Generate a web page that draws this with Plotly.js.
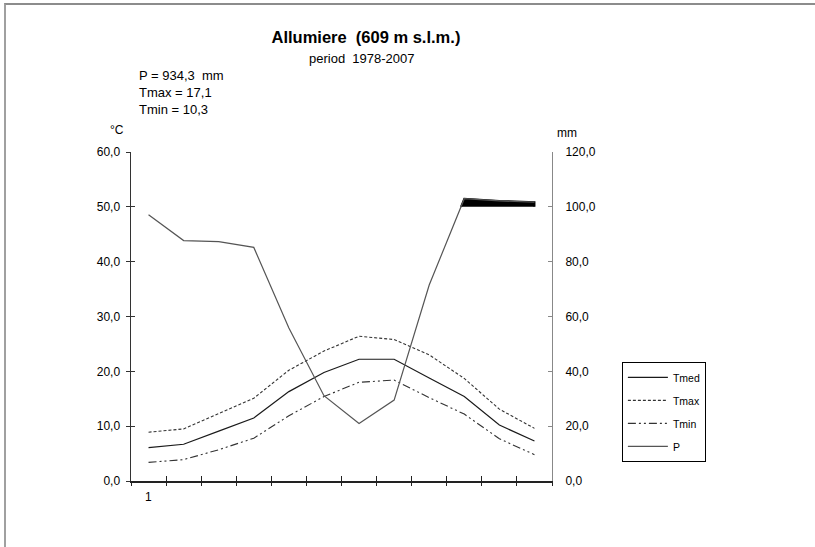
<!DOCTYPE html>
<html><head><meta charset="utf-8">
<script src="https://cdn.plot.ly/plotly-3.0.1.min.js"></script>
<style>
body{margin:0;background:#fff;}
#chart{position:absolute;left:0;top:0;width:815px;height:547px;}
#frame{position:absolute;left:4px;top:3px;right:0;bottom:0;border-top:2px solid #8c8c8c;border-left:2px solid #a0a0a0;pointer-events:none;}
</style>
</head><body>
<div id="chart"></div><div id="frame"></div>
<script>
// ---- data ----
const months = [1,2,3,4,5,6,7,8,9,10,11,12];
const xLabels = ['1','','','','','','','','','','',''];
const tmed = [6.1, 6.7, 9.1, 11.5, 16.3, 19.8, 22.2, 22.2, 18.8, 15.4, 10.2, 7.3];
const tmax = [8.9, 9.5, 12.3, 15.1, 20.2, 23.7, 26.4, 25.8, 23.0, 18.7, 13.1, 9.6];
const tmin = [3.4, 3.9, 5.7, 7.8, 11.9, 15.4, 18.0, 18.4, 15.2, 12.2, 7.7, 4.8];
const prec = [97.1, 87.7, 87.3, 85.2, 55.8, 31.1, 21.0, 29.5, 71.5, 129.5, 121.5, 117.1];
const titleText = 'Allumiere\u00a0 (609 m s.l.m.)';
const subtitleText = 'period\u00a0 1978-2007';
const statsLines = ['P = 934,3 \u00a0mm', 'Tmax = 17,1', 'Tmin = 10,3'];
const leftUnit = '°C';
const rightUnit = 'mm';

// Walter-Lieth: precipitation above 100 mm drawn at 1/10 scale
const pPlot = prec.map(p => p > 100 ? 100 + (p - 100) / 10 : p);
const fillX = [], fillY = [];
for (let i = 0; i < months.length; i++) {
  if (i > 0) {
    const a = pPlot[i-1], b = pPlot[i];
    if ((a > 100) !== (b > 100)) {
      const xc = months[i-1] + (100 - a) / (b - a) * (months[i] - months[i-1]);
      fillX.push(xc); fillY.push(100);
    }
  }
  if (pPlot[i] > 100) { fillX.push(months[i]); fillY.push(pPlot[i]); }
}
if (pPlot[pPlot.length-1] > 100) { fillX.push(months[months.length-1]); fillY.push(100); }

const bounds = months.map(m => m - 0.5).concat([months[months.length-1] + 0.5]);

const traces = [
  {x: months, y: tmed, name: 'Tmed', mode: 'lines', legendgroup: 'a',
   line: {color: '#1a1a1a', width: 1.2}},
  {x: months, y: tmax, name: 'Tmax', mode: 'lines', legendgroup: 'b',
   line: {color: '#333', width: 1.1, dash: '3px,2px'}},
  {x: months, y: tmin, name: 'Tmin', mode: 'lines', legendgroup: 'c',
   line: {color: '#333', width: 1.1, dash: '8px,3px,2px,3px,2px,3px'}},
  {x: fillX, y: fillY, yaxis: 'y2', mode: 'lines', fill: 'toself', fillcolor: '#000',
   line: {color: '#000', width: 2}, showlegend: false, hoverinfo: 'skip'},
  {x: months, y: pPlot, yaxis: 'y2', name: 'P', mode: 'lines', legendgroup: 'd',
   line: {color: '#555', width: 1.2}},
  {x: [], y: [], xaxis: 'x2', yaxis: 'y3', showlegend: false, hoverinfo: 'skip', mode: 'lines'}
];

const annotations = [
  {text: subtitleText, xref: 'paper', yref: 'paper', x: 0.5487, y: 1.2857,
   xanchor: 'center', yanchor: 'middle', showarrow: false, font: {size: 13}},
  {text: statsLines.join('<br>'), xref: 'paper', yref: 'paper', x: 0.0143, y: 1.182,
   xanchor: 'left', yanchor: 'middle', align: 'left', showarrow: false, font: {size: 13}},
  {text: leftUnit, xref: 'paper', yref: 'paper', x: -0.033, y: 1.067,
   xanchor: 'center', yanchor: 'middle', showarrow: false, font: {size: 12}},
  {text: rightUnit, xref: 'paper', yref: 'paper', x: 1.0356, y: 1.058,
   xanchor: 'center', yanchor: 'middle', showarrow: false, font: {size: 12}}
];
xLabels.forEach((t, i) => {
  if (t) annotations.push({text: t, xref: 'x', yref: 'paper', x: months[i], y: 0,
    xanchor: 'center', yanchor: 'top', yshift: -7, showarrow: false, font: {size: 12}});
});

const layout = {
  width: 815, height: 547,
  margin: {l: 131, r: 263, t: 152, b: 66, pad: 0},
  paper_bgcolor: '#fff', plot_bgcolor: '#fff',
  separators: ', ',
  font: {family: 'Liberation Sans, Arial, sans-serif', size: 12, color: '#000'},
  title: {text: titleText, xref: 'container', yref: 'container', x: 0.449, y: 0.9324,
    xanchor: 'center', yanchor: 'middle', font: {size: 16.5, weight: 'bold', color: '#000'}},
  showlegend: true,
  legend: {x: 1.166, y: 0.362, xanchor: 'left', yanchor: 'top', bordercolor: '#000',
    borderwidth: 1, font: {size: 10.5}, itemwidth: 40, tracegroupgap: 4, bgcolor: '#fff'},
  xaxis: {range: [0.5, 12.5], tickmode: 'array', tickvals: bounds, showticklabels: false,
    ticks: 'outside', ticklen: 3, tickcolor: '#222', tickwidth: 1, showline: true,
    linecolor: '#222', linewidth: 1.5, showgrid: false, zeroline: false, fixedrange: true},
  xaxis2: {overlaying: 'x', range: [0.5, 12.5], tickmode: 'array', tickvals: bounds,
    showticklabels: false, ticks: 'inside', ticklen: 5, tickcolor: '#222', showline: false,
    showgrid: false, zeroline: false},
  yaxis: {range: [0, 60], tickmode: 'linear', tick0: 0, dtick: 10, tickformat: '.1f',
    ticks: 'outside', ticklen: 4, tickcolor: '#333', showline: true, linecolor: '#333',
    linewidth: 1.5, showgrid: false, zeroline: false, ticklabelstandoff: 3},
  yaxis2: {overlaying: 'y', side: 'right', range: [0, 120], tickmode: 'linear', tick0: 0,
    dtick: 20, tickformat: '.1f', ticks: 'inside', ticklen: 4, tickcolor: '#888',
    showline: true, linecolor: '#888', linewidth: 1, showgrid: false, zeroline: false,
    ticklabelstandoff: 10},
  yaxis3: {overlaying: 'y', range: [0, 60], tickmode: 'linear', tick0: 0, dtick: 10,
    ticks: 'inside', ticklen: 4, tickcolor: '#333', showticklabels: false, showline: false,
    showgrid: false, zeroline: false},
  annotations: annotations
};

Plotly.newPlot('chart', traces, layout, {staticPlot: true, displayModeBar: false});
</script>
</body></html>
